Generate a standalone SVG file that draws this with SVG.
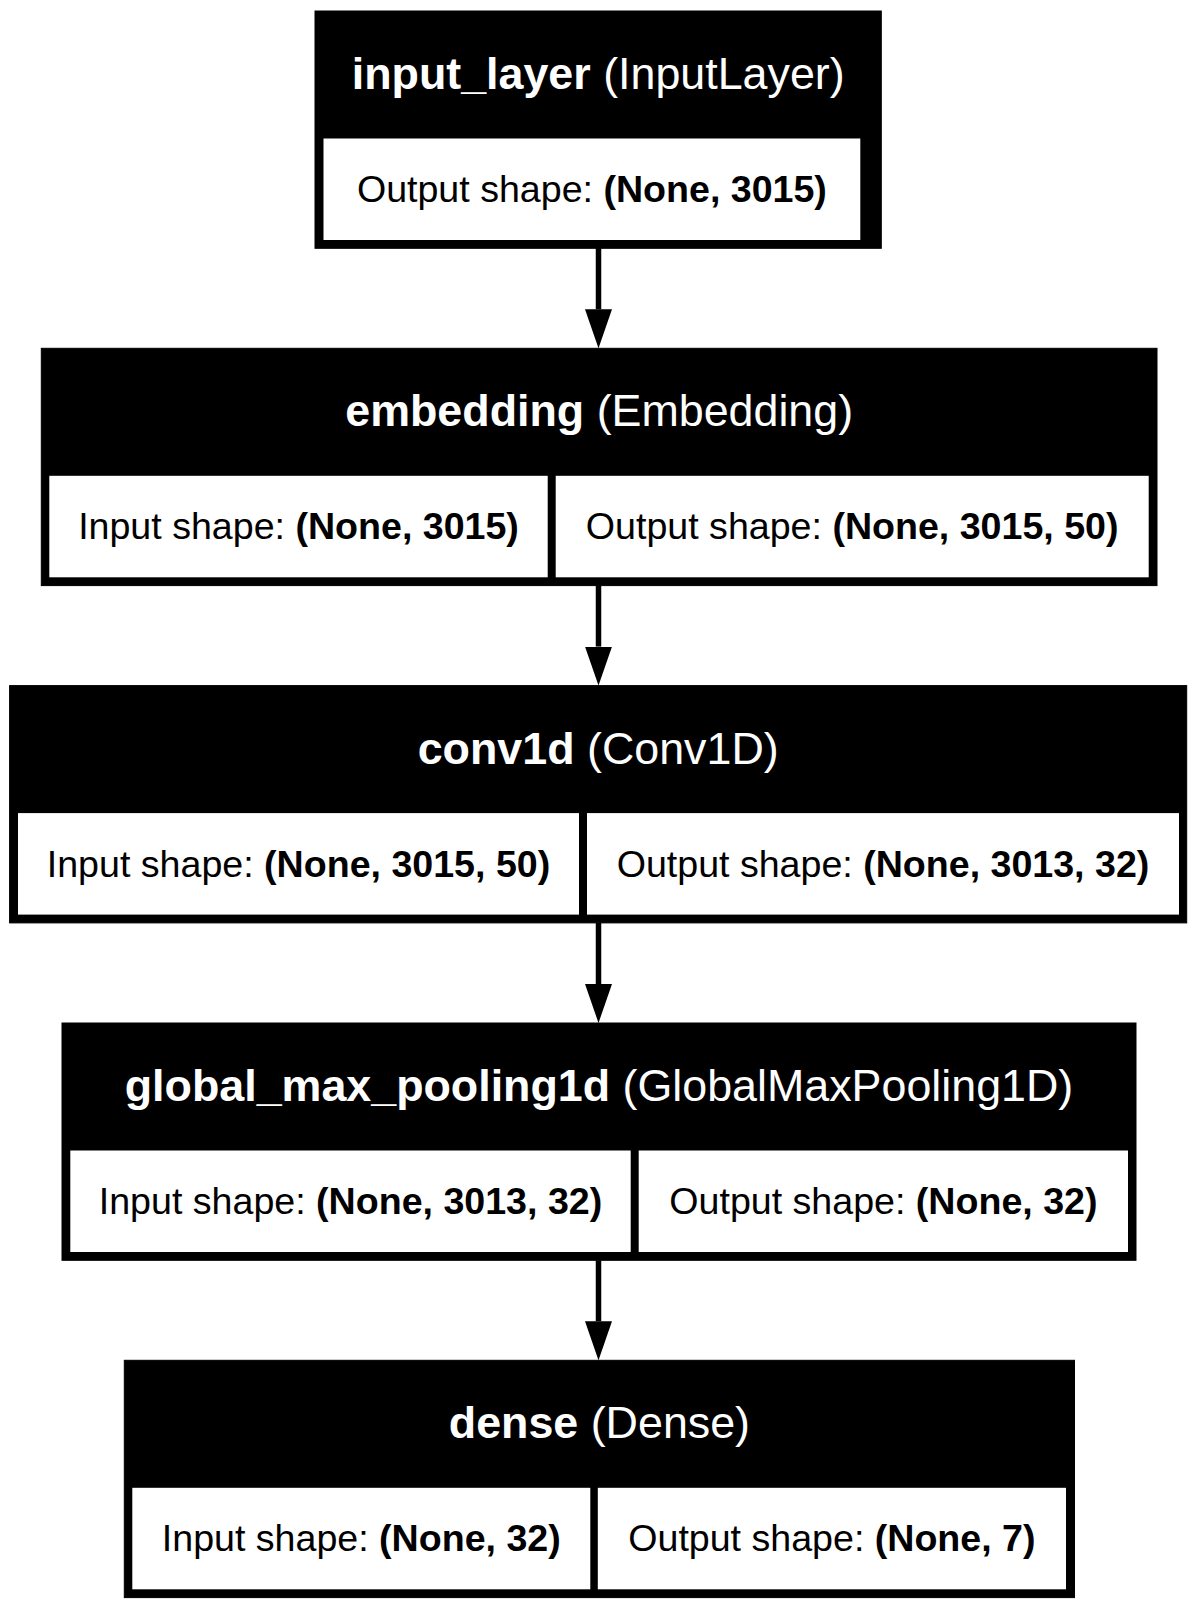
<svg xmlns="http://www.w3.org/2000/svg" width="1197" height="1610" viewBox="0 0 1197 1610">
<style>
  text { font-family: "Liberation Sans", Arial, Helvetica, sans-serif; text-anchor: middle; }
  .outer { fill: #000000; stroke: #000000; stroke-width: 1; }
  .cell { fill: #ffffff; stroke: none; }
  .title { fill: #ffffff; font-size: 44.8px; }
  .lbl { fill: #000000; font-size: 37.6px; }
  .b { font-weight: bold; }
  .edge { stroke: #000000; stroke-width: 5.5; fill: none; }
</style>
<defs>
  <marker id="arrow" markerUnits="userSpaceOnUse" viewBox="0 0 39 27" markerWidth="39" markerHeight="27" refX="0" refY="13.5" orient="auto">
    <path d="M0,0 L39,13.5 L0,27 z" fill="#000000"/>
  </marker>
</defs>
<rect x="0" y="0" width="1197" height="1610" fill="#ffffff"/>

<g id="connectors">
  <line class="edge" x1="598.5" y1="248" x2="598.5" y2="309.3" marker-end="url(#arrow)"/>
  <line class="edge" x1="598.5" y1="585.6" x2="598.5" y2="646.6" marker-end="url(#arrow)"/>
  <line class="edge" x1="598.5" y1="922.9" x2="598.5" y2="984" marker-end="url(#arrow)"/>
  <line class="edge" x1="598.5" y1="1260.3" x2="598.5" y2="1321.3" marker-end="url(#arrow)"/>
</g>

<g id="input_layer">
  <rect class="outer" x="315" y="11" width="566.3" height="237.3"/>
  <rect class="cell" x="323.5" y="138.5" width="536.8" height="101.5"/>
  <text class="title" x="598.2" y="89"><tspan class="b">input_layer</tspan> (InputLayer)</text>
  <text class="lbl" x="591.9" y="202">Output shape: <tspan class="b">(None, 3015)</tspan></text>
</g>

<g id="embedding">
  <rect class="outer" x="41.3" y="348.3" width="1115.7" height="237.3"/>
  <rect class="cell" x="49.3" y="475.8" width="498.4" height="101.5"/>
  <rect class="cell" x="555.7" y="475.8" width="593" height="101.5"/>
  <text class="title" x="599.2" y="426.3"><tspan class="b">embedding</tspan> (Embedding)</text>
  <text class="lbl" x="298.5" y="539.3">Input shape: <tspan class="b">(None, 3015)</tspan></text>
  <text class="lbl" x="852.2" y="539.3">Output shape: <tspan class="b">(None, 3015, 50)</tspan></text>
</g>

<g id="conv1d">
  <rect class="outer" x="9.6" y="685.6" width="1177.1" height="237.3"/>
  <rect class="cell" x="18" y="813.1" width="561" height="101.5"/>
  <rect class="cell" x="587" y="813.1" width="592" height="101.5"/>
  <text class="title" x="598.2" y="763.6"><tspan class="b">conv1d</tspan> (Conv1D)</text>
  <text class="lbl" x="298.5" y="876.6">Input shape: <tspan class="b">(None, 3015, 50)</tspan></text>
  <text class="lbl" x="883" y="876.6">Output shape: <tspan class="b">(None, 3013, 32)</tspan></text>
</g>

<g id="global_max_pooling1d">
  <rect class="outer" x="62" y="1023" width="1074" height="237.3"/>
  <rect class="cell" x="70.3" y="1150.5" width="560.4" height="101.5"/>
  <rect class="cell" x="638.7" y="1150.5" width="489.3" height="101.5"/>
  <text class="title" x="599" y="1101"><tspan class="b">global_max_pooling1d</tspan> (GlobalMaxPooling1D)</text>
  <text class="lbl" x="350.5" y="1214">Input shape: <tspan class="b">(None, 3013, 32)</tspan></text>
  <text class="lbl" x="883.4" y="1214">Output shape: <tspan class="b">(None, 32)</tspan></text>
</g>

<g id="dense">
  <rect class="outer" x="124.3" y="1360.3" width="950.2" height="237.3"/>
  <rect class="cell" x="132.3" y="1487.8" width="458" height="101.5"/>
  <rect class="cell" x="597.8" y="1487.8" width="468.2" height="101.5"/>
  <text class="title" x="599.4" y="1438.3"><tspan class="b">dense</tspan> (Dense)</text>
  <text class="lbl" x="361.3" y="1551.3">Input shape: <tspan class="b">(None, 32)</tspan></text>
  <text class="lbl" x="831.9" y="1551.3">Output shape: <tspan class="b">(None, 7)</tspan></text>
</g>
</svg>
